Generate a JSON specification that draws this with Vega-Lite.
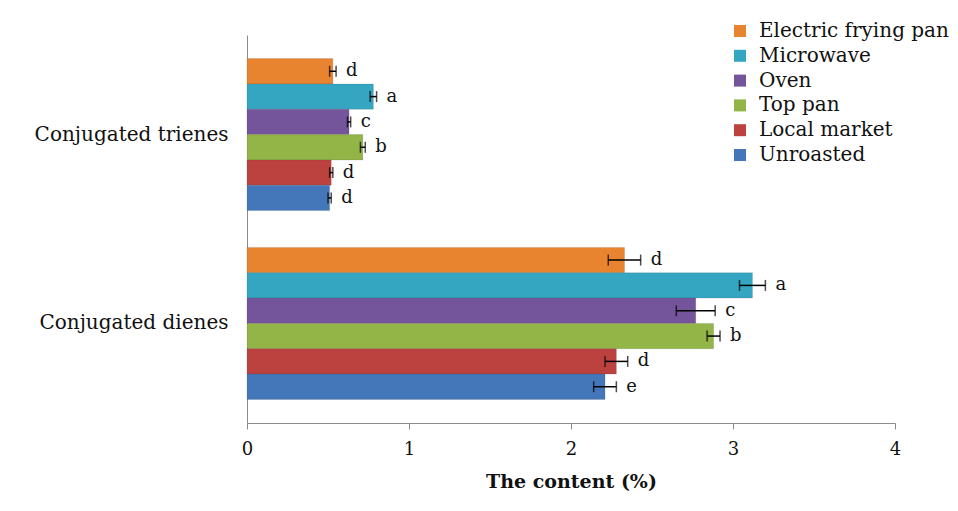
{
  "$schema": "https://vega.github.io/schema/vega-lite/v6.json",
  "autosize": {"type": "none"},
  "width": 648,
  "height": 388,
  "padding": {"left": 247, "top": 35, "right": 63, "bottom": 88},
  "background": "white",
  "config": {
    "view": {"stroke": null},
    "font": "DejaVu Serif",
    "axis": {"grid": false, "domainColor": "#8c8c8c", "tickColor": "#8c8c8c", "labelColor": "#111", "titleColor": "#111", "labelFont": "DejaVu Serif", "titleFont": "DejaVu Serif"}
  },
  "data": {
    "values": [
      {"cat": "Conjugated trienes", "method": "Electric frying pan", "value": 0.53, "lo": 0.51, "hi": 0.55, "letter": "d"},
      {"cat": "Conjugated trienes", "method": "Microwave", "value": 0.78, "lo": 0.76, "hi": 0.80, "letter": "a"},
      {"cat": "Conjugated trienes", "method": "Oven", "value": 0.63, "lo": 0.62, "hi": 0.64, "letter": "c"},
      {"cat": "Conjugated trienes", "method": "Top pan", "value": 0.715, "lo": 0.70, "hi": 0.73, "letter": "b"},
      {"cat": "Conjugated trienes", "method": "Local market", "value": 0.52, "lo": 0.51, "hi": 0.53, "letter": "d"},
      {"cat": "Conjugated trienes", "method": "Unroasted", "value": 0.51, "lo": 0.50, "hi": 0.52, "letter": "d"},
      {"cat": "Conjugated dienes", "method": "Electric frying pan", "value": 2.33, "lo": 2.23, "hi": 2.43, "letter": "d"},
      {"cat": "Conjugated dienes", "method": "Microwave", "value": 3.12, "lo": 3.04, "hi": 3.20, "letter": "a"},
      {"cat": "Conjugated dienes", "method": "Oven", "value": 2.77, "lo": 2.65, "hi": 2.89, "letter": "c"},
      {"cat": "Conjugated dienes", "method": "Top pan", "value": 2.88, "lo": 2.84, "hi": 2.92, "letter": "b"},
      {"cat": "Conjugated dienes", "method": "Local market", "value": 2.28, "lo": 2.21, "hi": 2.35, "letter": "d"},
      {"cat": "Conjugated dienes", "method": "Unroasted", "value": 2.21, "lo": 2.14, "hi": 2.28, "letter": "e"}
    ]
  },
  "encoding": {
    "y": {
      "field": "cat", "type": "nominal",
      "sort": ["Conjugated trienes", "Conjugated dienes"],
      "scale": {"paddingInner": 0.195, "paddingOuter": 0.125},
      "axis": {"title": null, "ticks": false, "labelPadding": 19, "labelFontSize": 20, "labelLimit": 300}
    },
    "yOffset": {
      "field": "method", "type": "nominal",
      "sort": ["Electric frying pan", "Microwave", "Oven", "Top pan", "Local market", "Unroasted"],
      "scale": {"paddingInner": 0, "paddingOuter": 0}
    }
  },
  "layer": [
    {
      "mark": {"type": "bar", "stroke": "#3a3a3a", "strokeOpacity": 0.25, "strokeWidth": 0.6},
      "encoding": {
        "x": {
          "field": "value", "type": "quantitative",
          "scale": {"domain": [0, 4], "nice": false},
          "axis": {"values": [0, 1, 2, 3, 4], "format": "d", "labelFlush": false, "title": "The content (%)", "titleFontSize": 19, "titleFontWeight": "bold", "labelFontSize": 18, "tickSize": 6, "labelPadding": 11, "titlePadding": 14}
        },
        "color": {
          "field": "method", "type": "nominal",
          "scale": {
            "domain": ["Electric frying pan", "Microwave", "Oven", "Top pan", "Local market", "Unroasted"],
            "range": ["#E8842F", "#35A6C2", "#74559C", "#93B446", "#BC423F", "#4377BA"]
          },
          "legend": {
            "title": null, "orient": "none", "legendX": 483, "legendY": -14,
            "symbolType": "square", "symbolSize": 144, "symbolStrokeWidth": 0,
            "labelFontSize": 20, "labelFont": "DejaVu Serif", "labelColor": "#111",
            "labelOffset": 9, "rowPadding": 4.8, "padding": 0, "labelLimit": 300
          }
        }
      }
    },
    {
      "mark": {"type": "rule", "color": "black", "strokeWidth": 1.5},
      "encoding": {
        "x": {"field": "lo", "type": "quantitative"},
        "x2": {"field": "hi"}
      }
    },
    {
      "mark": {"type": "tick", "color": "black", "thickness": 1.5, "size": 11},
      "encoding": {"x": {"field": "lo", "type": "quantitative"}}
    },
    {
      "mark": {"type": "tick", "color": "black", "thickness": 1.5, "size": 11},
      "encoding": {"x": {"field": "hi", "type": "quantitative"}}
    },
    {
      "mark": {"type": "text", "align": "left", "baseline": "middle", "dx": 10, "fontSize": 18, "font": "DejaVu Serif", "color": "#111"},
      "encoding": {
        "x": {"field": "hi", "type": "quantitative"},
        "text": {"field": "letter"}
      }
    }
  ]
}
